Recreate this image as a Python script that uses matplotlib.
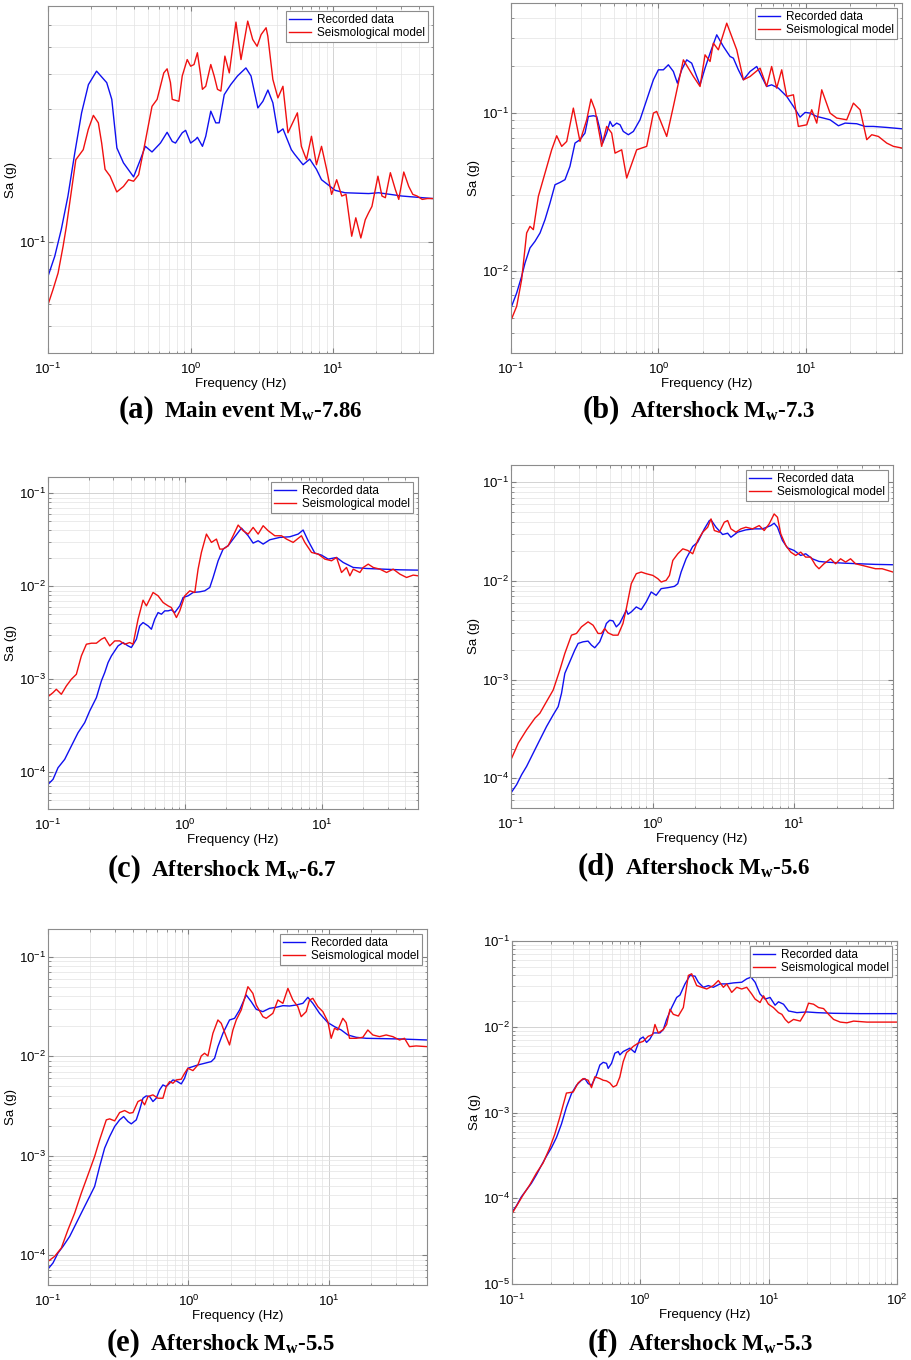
import matplotlib
matplotlib.use('Agg')
import matplotlib.pyplot as plt
from matplotlib.ticker import LogLocator, NullFormatter
from matplotlib.offsetbox import TextArea, HPacker, AnnotationBbox

plt.rcParams['font.family'] = ['Liberation Sans', 'DejaVu Sans']

# ---- (a) Main event Mw-7.86 ----
a_rec_f = [0.1, 0.1115, 0.124, 0.138, 0.154, 0.172, 0.192, 0.219, 0.258, 0.280,
           0.304, 0.338, 0.398, 0.444, 0.481, 0.536, 0.614, 0.684, 0.743, 0.783,
           0.873, 0.922, 1.0, 1.084, 1.115, 1.21, 1.276, 1.384, 1.5, 1.585,
           1.72, 1.91, 2.13, 2.44, 2.65, 2.96, 3.21, 3.48, 3.77, 4.09,
           4.44, 5.08, 5.36, 6.14, 6.84, 7.62, 8.27, 9.22, 10.3, 12.1,
           17.7, 20.8, 30.3, 50]
a_rec_sa = [0.0753, 0.0888, 0.111, 0.146, 0.208, 0.290, 0.366, 0.409, 0.372, 0.324,
            0.217, 0.192, 0.171, 0.197, 0.220, 0.210, 0.226, 0.247, 0.229, 0.226,
            0.246, 0.251, 0.226, 0.233, 0.237, 0.220, 0.239, 0.294, 0.267, 0.267,
            0.337, 0.366, 0.393, 0.420, 0.393, 0.302, 0.319, 0.350, 0.315, 0.246,
            0.254, 0.214, 0.206, 0.189, 0.198, 0.182, 0.167, 0.160, 0.153, 0.150,
            0.149, 0.150, 0.146, 0.143]
a_mod_f = [0.1, 0.1084, 0.1177, 0.1276, 0.1346, 0.1567, 0.1766, 0.1916, 0.208, 0.2254,
           0.2378, 0.2512, 0.2724, 0.3036, 0.338, 0.367, 0.398, 0.4318, 0.4688, 0.536,
           0.582, 0.648, 0.684, 0.722, 0.743, 0.827, 0.873, 0.946, 1.0, 1.056,
           1.115, 1.177, 1.209, 1.276, 1.384, 1.462, 1.542, 1.629, 1.738, 1.866,
           2.078, 2.254, 2.512, 2.723, 2.924, 3.119, 3.38, 3.475, 3.77, 4.09,
           4.436, 4.81, 5.6, 5.97, 6.485, 7.03, 7.62, 8.27, 8.98, 9.73,
           10.56, 11.46, 12.28, 13.46, 14.38, 15.6, 16.75, 17.66, 18.66, 20.56,
           21.94, 23.17, 25.12, 27.23, 28.77, 31.19, 33.81, 36.1, 38.7, 42.0,
           45.6, 50]
a_mod_sa = [0.0596, 0.0675, 0.0774, 0.0965, 0.1138, 0.197, 0.214, 0.253, 0.284, 0.267,
            0.226, 0.182, 0.172, 0.151, 0.158, 0.167, 0.165, 0.174, 0.214, 0.306,
            0.324, 0.403, 0.417, 0.372, 0.324, 0.319, 0.393, 0.450, 0.426, 0.432,
            0.476, 0.393, 0.352, 0.361, 0.432, 0.393, 0.352, 0.347, 0.463, 0.403,
            0.613, 0.450, 0.618, 0.531, 0.502, 0.553, 0.585, 0.546, 0.382, 0.328,
            0.361, 0.246, 0.290, 0.220, 0.197, 0.239, 0.189, 0.220, 0.182, 0.148,
            0.167, 0.146, 0.148, 0.1048, 0.122, 0.1033, 0.120, 0.127, 0.134, 0.172,
            0.146, 0.144, 0.177, 0.154, 0.142, 0.178, 0.158, 0.148, 0.146, 0.142,
            0.143, 0.143]

# ---- (b) Aftershock Mw-7.3 ----
b_rec_f = [0.1, 0.1093, 0.1181, 0.1245, 0.1345, 0.1455, 0.1574, 0.1701, 0.1839, 0.1989,
           0.215, 0.2325, 0.2512, 0.2718, 0.2938, 0.3177, 0.335, 0.3622, 0.3815, 0.4018,
           0.419, 0.4459, 0.4697, 0.4898, 0.5215, 0.5495, 0.578, 0.6255, 0.6767, 0.7507,
           0.8334, 0.925, 1.0, 1.081, 1.169, 1.264, 1.346, 1.44, 1.557, 1.683,
           1.82, 1.918, 2.073, 2.243, 2.489, 2.761, 3.065, 3.228, 3.49, 3.776,
           4.19, 4.65, 5.02, 5.43, 5.87, 6.52, 7.43, 8.25, 9.15, 9.9,
           10.7, 11.88, 13.18, 14.62, 16.67, 18.5, 22.18, 25.28, 28.78, 35.46,
           45]
b_rec_sa = [0.0058, 0.00722, 0.0092, 0.01118, 0.01393, 0.01535, 0.01734, 0.02106, 0.02685, 0.0351,
            0.0363, 0.0378, 0.0459, 0.0645, 0.0678, 0.0747, 0.0952, 0.0962, 0.0952, 0.0784,
            0.0645, 0.0747, 0.0885, 0.0823, 0.0864, 0.0843, 0.0765, 0.0729, 0.0765, 0.0907,
            0.1215, 0.1627, 0.1883, 0.1883, 0.2026, 0.1838, 0.155, 0.1883, 0.2178, 0.2075,
            0.1708, 0.1512, 0.1929, 0.2401, 0.314, 0.2648, 0.2288, 0.2233, 0.1883, 0.1627,
            0.1838, 0.1977, 0.1708, 0.1476, 0.1512, 0.1441, 0.1276, 0.1102, 0.0943, 0.101,
            0.1, 0.0952, 0.093, 0.0907, 0.0831, 0.0864, 0.0856, 0.0823, 0.0823, 0.0811,
            0.0795]
b_mod_f = [0.1, 0.1093, 0.1181, 0.1277, 0.1345, 0.1418, 0.1533, 0.1701, 0.1888, 0.2042,
           0.2208, 0.2388, 0.2649, 0.2938, 0.3264, 0.349, 0.3716, 0.4124, 0.4459, 0.482,
           0.508, 0.5638, 0.6096, 0.7127, 0.8334, 0.925, 0.974, 1.139, 1.264, 1.478,
           1.729, 1.918, 2.073, 2.243, 2.361, 2.553, 2.91, 3.402, 3.776, 4.19,
           4.9, 5.43, 5.87, 6.35, 6.87, 7.43, 8.25, 8.91, 10.16, 10.98,
           11.88, 12.84, 14.62, 16.24, 18.97, 21.06, 23.38, 25.94, 28.05, 31.12,
           35.46, 39.36, 45]
b_mod_sa = [0.00484, 0.00594, 0.00877, 0.01734, 0.0191, 0.0182, 0.0296, 0.0416, 0.0585, 0.0718,
            0.0615, 0.0661, 0.1076, 0.0661, 0.0907, 0.1227, 0.105, 0.0615, 0.0823, 0.0747,
            0.0557, 0.0585, 0.0387, 0.0585, 0.0615, 0.1, 0.1025, 0.0711, 0.1102, 0.2178,
            0.1708, 0.1476, 0.2344, 0.2127, 0.278, 0.2522, 0.3723, 0.2522, 0.1627, 0.1708,
            0.1929, 0.1476, 0.1977, 0.1441, 0.1883, 0.1276, 0.1307, 0.0823, 0.0843, 0.105,
            0.0864, 0.1406, 0.1, 0.093, 0.0907, 0.1157, 0.105, 0.0678, 0.0729, 0.0711,
            0.0645, 0.0615, 0.06]

# ---- (c) Aftershock Mw-6.7 ----
c_rec_f = [0.1, 0.1088, 0.1183, 0.1323, 0.148, 0.1656, 0.1852, 0.2014, 0.2254, 0.2451,
           0.2592, 0.2742, 0.29, 0.3067, 0.3243, 0.3527, 0.3837, 0.4056, 0.4414, 0.4667,
           0.4936, 0.537, 0.5679, 0.6005, 0.6353, 0.672, 0.7107, 0.7516, 0.7945, 0.8406,
           0.9144, 0.967, 1.052, 1.144, 1.279, 1.392, 1.514, 1.601, 1.742, 1.894,
           2.06, 2.24, 2.577, 2.884, 3.136, 3.411, 3.71, 4.15, 4.91, 5.81,
           6.68, 7.26, 7.9, 8.84, 9.89, 11.06, 12.73, 14.23, 16.84, 21.07,
           27.87, 36.9, 50]
c_rec_sa = [7.36e-5, 8.34e-5, 1.112e-4, 1.368e-4, 1.905e-4, 2.65e-4, 3.40e-4, 4.54e-4, 6.32e-4, 9.57e-4,
            1.175e-3, 1.507e-3, 1.778e-3, 2.014e-3, 2.28e-3, 2.477e-3, 2.28e-3, 2.19e-3, 2.69e-3, 3.745e-3,
            4.066e-3, 3.745e-3, 3.447e-3, 4.418e-3, 5.21e-3, 5.0e-3, 5.434e-3, 5.434e-3, 5.57e-3, 5.21e-3,
            6.15e-3, 7.57e-3, 7.89e-3, 8.57e-3, 8.71e-3, 8.93e-3, 9.70e-3, 0.01243, 0.0188, 0.02512,
            0.02729, 0.0322, 0.04228, 0.03496, 0.02914, 0.0309, 0.02844, 0.03166, 0.03357, 0.0341,
            0.03644, 0.0403, 0.0309, 0.02275, 0.02163, 0.0196, 0.0204, 0.01804, 0.01593, 0.01553,
            0.01528, 0.01503, 0.01491]
c_mod_f = [0.1, 0.1088, 0.115, 0.1251, 0.1361, 0.148, 0.161, 0.1751, 0.1905, 0.2072,
           0.2254, 0.2451, 0.2592, 0.2821, 0.3067, 0.3335, 0.3627, 0.3945, 0.4173, 0.4539,
           0.4936, 0.5222, 0.5522, 0.5839, 0.6353, 0.6911, 0.7516, 0.7945, 0.8645, 0.9144,
           0.9945, 1.082, 1.177, 1.244, 1.315, 1.431, 1.557, 1.693, 1.791, 1.894,
           2.06, 2.24, 2.438, 2.651, 2.884, 3.136, 3.411, 3.71, 4.036, 4.513,
           5.05, 5.49, 6.14, 7.06, 7.47, 8.36, 9.35, 10.46, 11.7, 12.73,
           13.84, 15.05, 15.92, 16.84, 18.84, 19.92, 21.67, 23.57, 26.36, 29.49,
           32.97, 36.9, 41.26, 46.1, 50]
c_mod_sa = [6.48e-4, 7.16e-4, 7.78e-4, 6.87e-4, 8.45e-4, 9.97e-4, 1.128e-3, 1.778e-3, 2.376e-3, 2.437e-3,
            2.437e-3, 2.69e-3, 2.805e-3, 2.28e-3, 2.58e-3, 2.58e-3, 2.376e-3, 2.477e-3, 2.376e-3, 4.418e-3,
            7.08e-3, 6.15e-3, 7.26e-3, 8.57e-3, 7.89e-3, 6.68e-3, 6.15e-3, 5.90e-3, 4.605e-3, 5.434e-3,
            7.89e-3, 8.93e-3, 8.57e-3, 0.01528, 0.02312, 0.03644, 0.02965, 0.0322, 0.02512, 0.02512,
            0.02729, 0.03496, 0.04556, 0.0396, 0.03644, 0.04299, 0.03644, 0.04482, 0.0396, 0.03496,
            0.03496, 0.0322, 0.02965, 0.03496, 0.02965, 0.02312, 0.02218, 0.0196, 0.0188, 0.0204,
            0.01407, 0.01593, 0.01296, 0.01528, 0.01407, 0.01593, 0.0173, 0.01593, 0.01528, 0.01407,
            0.01528, 0.0135, 0.01243, 0.01318, 0.01296]

# ---- (d) Aftershock Mw-5.6 ----
d_rec_f = [0.1, 0.1096, 0.1189, 0.1289, 0.1436, 0.16, 0.1783, 0.1987, 0.2154, 0.2275,
           0.2401, 0.2603, 0.2823, 0.2981, 0.3232, 0.3504, 0.37, 0.3905, 0.4235, 0.4469,
           0.4718, 0.4981, 0.5258, 0.5548, 0.5856, 0.6182, 0.6526, 0.6705, 0.7076, 0.7674,
           0.8322, 0.9025, 0.9786, 1.061, 1.151, 1.282, 1.429, 1.508, 1.592, 1.726,
           1.923, 2.085, 2.324, 2.52, 2.589, 2.809, 3.129, 3.393, 3.581, 3.99,
           4.566, 5.226, 5.98, 6.85, 7.233, 7.633, 8.278, 8.98, 10.0, 11.14,
           12.08, 13.46, 15.0, 16.71, 21.9, 28.69, 37.6, 50]
d_rec_sa = [7.11e-5, 8.63e-5, 1.089e-4, 1.321e-4, 1.803e-4, 2.46e-4, 3.35e-4, 4.40e-4, 5.33e-4, 7.28e-4,
            1.159e-3, 1.52e-3, 1.995e-3, 2.33e-3, 2.42e-3, 2.46e-3, 2.24e-3, 2.105e-3, 2.42e-3, 2.94e-3,
            3.71e-3, 4.0e-3, 3.945e-3, 3.43e-3, 3.71e-3, 4.33e-3, 5.06e-3, 4.605e-3, 4.86e-3, 5.46e-3,
            5.13e-3, 6.14e-3, 7.74e-3, 7.16e-3, 8.37e-3, 8.56e-3, 8.83e-3, 9.40e-3, 0.01233, 0.0168,
            0.0224, 0.02477, 0.03378, 0.04101, 0.04166, 0.0351, 0.02959, 0.03053, 0.0278, 0.03125,
            0.033, 0.03378, 0.03378, 0.03648, 0.03853, 0.0351, 0.02575, 0.0217, 0.0204, 0.01816,
            0.01888, 0.0168, 0.0158, 0.01556, 0.0152, 0.01496, 0.01474, 0.01462]
d_mod_f = [0.1, 0.1126, 0.1289, 0.1476, 0.16, 0.1783, 0.1987, 0.2213, 0.2401, 0.2674,
           0.2901, 0.3146, 0.3504, 0.3801, 0.4121, 0.435, 0.4592, 0.4847, 0.5258, 0.57,
           0.6182, 0.6526, 0.7076, 0.7674, 0.8322, 0.9025, 1.005, 1.09, 1.151, 1.248,
           1.317, 1.391, 1.508, 1.636, 1.774, 1.923, 2.085, 2.262, 2.453, 2.589,
           2.733, 2.963, 3.214, 3.393, 3.581, 3.883, 4.21, 4.566, 5.09, 5.67,
           6.15, 6.67, 7.233, 7.633, 8.054, 8.74, 9.47, 10.27, 11.14, 12.08,
           13.1, 14.2, 15.0, 16.27, 18.12, 19.65, 21.31, 23.11, 25.06, 27.19,
           30.28, 33.74, 37.6, 41.88, 50]
d_mod_sa = [1.545e-4, 2.275e-4, 3.10e-4, 4.07e-4, 4.57e-4, 6.0e-4, 7.86e-4, 1.253e-3, 1.845e-3, 2.825e-3,
            2.94e-3, 3.43e-3, 3.855e-3, 3.565e-3, 2.94e-3, 2.94e-3, 3.30e-3, 2.985e-3, 2.825e-3, 2.825e-3,
            3.71e-3, 5.25e-3, 9.40e-3, 0.01186, 0.01233, 0.01186, 0.0114, 0.01056, 9.77e-3, 0.01016,
            0.0114, 0.01617, 0.01888, 0.0212, 0.0204, 0.01888, 0.02575, 0.03125, 0.0351, 0.04262,
            0.0325, 0.03125, 0.03945, 0.04101, 0.03378, 0.03125, 0.03378, 0.0351, 0.03378, 0.03648,
            0.0325, 0.03793, 0.04787, 0.0443, 0.03006, 0.02292, 0.01963, 0.01816, 0.01963, 0.01747,
            0.01747, 0.0144, 0.01332, 0.01496, 0.0168, 0.01496, 0.0168, 0.01556, 0.0168, 0.01496,
            0.0144, 0.01385, 0.01332, 0.01332, 0.01233]

# ---- (e) Aftershock Mw-5.5 ----
e_rec_f = [0.1, 0.1085, 0.1178, 0.1279, 0.1427, 0.1591, 0.1774, 0.198, 0.2148, 0.2332,
           0.2531, 0.2748, 0.2983, 0.3237, 0.3456, 0.3711, 0.3919, 0.4253, 0.4492, 0.4746,
           0.5011, 0.5292, 0.5589, 0.5902, 0.6234, 0.6583, 0.6952, 0.7345, 0.7757, 0.8192,
           0.8892, 0.9391, 0.9918, 1.077, 1.168, 1.303, 1.454, 1.536, 1.622, 1.761,
           1.963, 2.131, 2.313, 2.58, 2.801, 3.04, 3.39, 3.782, 4.218, 4.706,
           5.248, 5.854, 6.53, 7.087, 7.692, 8.584, 9.84, 10.97, 12.24, 13.65,
           15.65, 18.44, 24.23, 31.84, 50]
e_rec_sa = [7.24e-5, 8.32e-5, 1.048e-4, 1.223e-4, 1.541e-4, 2.098e-4, 2.855e-4, 3.886e-4, 4.90e-4, 7.78e-4,
            1.189e-3, 1.557e-3, 1.962e-3, 2.288e-3, 2.472e-3, 2.202e-3, 2.086e-3, 2.288e-3, 2.884e-3, 3.777e-3,
            3.986e-3, 3.925e-3, 3.498e-3, 3.777e-3, 4.58e-3, 5.14e-3, 4.946e-3, 5.34e-3, 5.77e-3, 5.64e-3,
            5.26e-3, 6.0e-3, 7.56e-3, 7.86e-3, 8.16e-3, 8.48e-3, 8.82e-3, 9.53e-3, 0.01247, 0.01698,
            0.02312, 0.02402, 0.02912, 0.04121, 0.03532, 0.02958, 0.02803, 0.03027, 0.03098, 0.0322,
            0.03195, 0.0327, 0.03398, 0.03904, 0.03398, 0.02697, 0.02174, 0.01982, 0.01834, 0.01634,
            0.01548, 0.01512, 0.01501, 0.0149, 0.01455]
e_mod_f = [0.1, 0.1115, 0.1244, 0.1388, 0.1548, 0.1727, 0.1927, 0.2148, 0.2332, 0.2601,
           0.2748, 0.2983, 0.3237, 0.3514, 0.3814, 0.4027, 0.4372, 0.4617, 0.4876, 0.5149,
           0.5589, 0.6066, 0.6583, 0.6952, 0.7345, 0.7757, 0.8192, 0.8892, 0.9391, 0.9918,
           1.077, 1.168, 1.234, 1.303, 1.377, 1.494, 1.622, 1.713, 1.859, 1.963,
           2.074, 2.191, 2.377, 2.652, 2.877, 3.04, 3.39, 3.58, 3.994, 4.335,
           4.706, 5.108, 5.543, 6.016, 6.354, 6.897, 7.284, 7.692, 8.352, 9.065,
           9.84, 10.39, 10.97, 11.59, 12.58, 13.29, 14.03, 15.65, 17.46, 18.95,
           20.57, 22.94, 25.59, 28.55, 31.84, 34.57, 37.5, 41.84, 50]
e_mod_sa = [8.64e-5, 9.70e-5, 1.177e-4, 1.798e-4, 2.642e-4, 4.198e-4, 6.415e-4, 9.80e-4, 1.441e-3, 2.288e-3,
            2.342e-3, 2.236e-3, 2.711e-3, 2.84e-3, 2.67e-3, 2.711e-3, 3.498e-3, 3.634e-3, 3.237e-3, 3.925e-3,
            4.08e-3, 3.777e-3, 3.777e-3, 4.946e-3, 5.55e-3, 5.34e-3, 5.77e-3, 5.86e-3, 6.73e-3, 7.56e-3,
            7.16e-3, 8.16e-3, 0.01005, 0.0107, 0.01005, 0.01698, 0.02312, 0.0214, 0.01572, 0.01296,
            0.01834, 0.02312, 0.02912, 0.04995, 0.04282, 0.0327, 0.02496, 0.02402, 0.02697, 0.03671,
            0.03398, 0.04808, 0.03671, 0.03146, 0.02496, 0.02803, 0.03671, 0.03815, 0.03146, 0.02803,
            0.02225, 0.01512, 0.01906, 0.01834, 0.02402, 0.02174, 0.01512, 0.01512, 0.01548, 0.01834,
            0.01634, 0.01572, 0.01634, 0.01572, 0.01455, 0.01512, 0.01247, 0.01267, 0.01247]

# ---- (f) Aftershock Mw-5.3 ----
f_rec_f = [0.1, 0.1081, 0.1183, 0.1294, 0.1416, 0.1549, 0.1694, 0.1854, 0.2028, 0.2218,
           0.2427, 0.2655, 0.2905, 0.3179, 0.3477, 0.3693, 0.3921, 0.4163, 0.4554, 0.4836,
           0.5134, 0.5451, 0.5617, 0.5964, 0.6333, 0.6724, 0.6928, 0.7355, 0.7809, 0.829,
           0.9069, 0.9922, 1.053, 1.118, 1.188, 1.261, 1.422, 1.51, 1.603, 1.754,
           1.919, 2.037, 2.228, 2.438, 2.667, 2.831, 3.097, 3.388, 3.707, 4.178,
           4.712, 5.309, 6.166, 6.745, 7.29, 7.84, 8.57, 9.38, 10.26, 11.22,
           11.93, 13.05, 14.28, 16.6, 19.85, 23.76, 32.05, 51.7, 100]
f_rec_sa = [6.91e-5, 8.13e-5, 1.04e-4, 1.246e-4, 1.494e-4, 1.875e-4, 2.416e-4, 3.09e-4, 3.875e-4, 5.085e-4,
            7.31e-4, 1.151e-3, 1.655e-3, 2.076e-3, 2.379e-3, 2.49e-3, 2.173e-3, 2.076e-3, 2.726e-3, 3.578e-3,
            3.847e-3, 3.744e-3, 3.268e-3, 3.744e-3, 4.914e-3, 5.14e-3, 4.70e-3, 5.14e-3, 5.38e-3, 5.63e-3,
            5.004e-3, 7.194e-3, 7.598e-3, 6.57e-3, 7.194e-3, 8.473e-3, 8.473e-3, 9.28e-3, 0.01218, 0.01674,
            0.02197, 0.02342, 0.03159, 0.03963, 0.03891, 0.03304, 0.02885, 0.0302, 0.02885, 0.03159,
            0.03159, 0.03246, 0.03304, 0.0362, 0.0379, 0.03304, 0.02406, 0.021, 0.02197, 0.01783,
            0.01953, 0.01832, 0.01528, 0.01461, 0.01488, 0.01461, 0.01435, 0.01422, 0.01422]
f_mod_f = [0.1, 0.1114, 0.1219, 0.1374, 0.1549, 0.1746, 0.1968, 0.2153, 0.2356, 0.2655,
           0.2994, 0.3275, 0.3583, 0.3921, 0.4163, 0.4419, 0.4836, 0.5134, 0.5451, 0.5788,
           0.6145, 0.6525, 0.6928, 0.7355, 0.7809, 0.829, 0.8802, 0.9629, 1.053, 1.152,
           1.246, 1.3, 1.38, 1.51, 1.603, 1.702, 1.807, 1.977, 2.163, 2.366,
           2.512, 2.748, 3.006, 3.289, 3.707, 4.055, 4.437, 4.712, 5.153, 5.637,
           6.166, 6.745, 7.38, 7.84, 8.57, 9.11, 9.96, 10.89, 11.93, 12.67,
           13.45, 14.28, 15.63, 17.62, 19.27, 20.45, 22.37, 24.48, 26.78, 29.3,
           32.05, 36.12, 40.7, 45.9, 58.3, 100]
f_mod_sa = [6.61e-5, 8.67e-5, 1.088e-4, 1.428e-4, 1.962e-4, 2.576e-4, 3.875e-4, 5.57e-4, 8.77e-4, 1.685e-3,
            1.731e-3, 2.213e-3, 2.49e-3, 2.379e-3, 1.949e-3, 2.605e-3, 2.49e-3, 2.379e-3, 2.336e-3, 2.213e-3,
            1.984e-3, 2.076e-3, 2.605e-3, 3.918e-3, 5.004e-3, 5.38e-3, 5.895e-3, 6.45e-3, 6.755e-3, 7.738e-3,
            8.097e-3, 0.01063, 8.473e-3, 9.28e-3, 0.01063, 0.016, 0.01396, 0.01334, 0.01674, 0.03963,
            0.04148, 0.0302, 0.02885, 0.02757, 0.0302, 0.03458, 0.02885, 0.03159, 0.02518, 0.02885,
            0.02757, 0.02885, 0.02406, 0.021, 0.01918, 0.023, 0.01832, 0.01674, 0.01461, 0.01396,
            0.01218, 0.01112, 0.01218, 0.01164, 0.01461, 0.01883, 0.01832, 0.01674, 0.01629, 0.01396,
            0.01218, 0.01133, 0.01112, 0.01164, 0.01133, 0.01133]

letters = ['(a)', '(b)', '(c)', '(d)', '(e)', '(f)']
titles = [r'Main event M$_\mathregular{w}$-7.86', r'Aftershock M$_\mathregular{w}$-7.3',
          r'Aftershock M$_\mathregular{w}$-6.7', r'Aftershock M$_\mathregular{w}$-5.6',
          r'Aftershock M$_\mathregular{w}$-5.5', r'Aftershock M$_\mathregular{w}$-5.3']
xlims = [(0.1, 50), (0.1, 45), (0.1, 50), (0.1, 50), (0.1, 50), (0.1, 100)]
ylims = [(0.04, 0.7), (0.003, 0.5), (4e-5, 0.15), (5e-5, 0.15), (5e-5, 0.19), (1e-5, 0.1)]

series = [(a_rec_f, a_rec_sa, a_mod_f, a_mod_sa), (b_rec_f, b_rec_sa, b_mod_f, b_mod_sa),
          (c_rec_f, c_rec_sa, c_mod_f, c_mod_sa), (d_rec_f, d_rec_sa, d_mod_f, d_mod_sa),
          (e_rec_f, e_rec_sa, e_mod_f, e_mod_sa), (f_rec_f, f_rec_sa, f_mod_f, f_mod_sa)]

W, H = 912, 1360
# axes boxes in pixels: left, top, right, bottom
boxes = [(48, 6, 433, 353), (511, 3, 902, 353),
         (48, 477, 418, 809), (511, 465, 893, 808),
         (48, 929, 427, 1285), (512, 941, 897, 1284)]
# caption centres in pixels
caps = [(241, 410), (699, 410), (222, 869), (694, 867), (221, 1343), (700, 1343)]

fig = plt.figure(figsize=(W / 100, H / 100), dpi=100)

for i in range(6):
    l, t, r, b = boxes[i]
    ax = fig.add_axes([l / W, 1 - b / H, (r - l) / W, (b - t) / H])
    rf, rs, mf, ms = series[i]
    ax.plot(rf, rs, color='#1010f0', lw=1.0, label='Recorded data')
    ax.plot(mf, ms, color='#f01010', lw=1.0, label='Seismological model')
    ax.set_xscale('log')
    ax.set_yscale('log')
    ax.set_xlim(xlims[i])
    ax.set_ylim(ylims[i])
    for axis in (ax.xaxis, ax.yaxis):
        axis.set_major_locator(LogLocator(base=10, numticks=20))
        axis.set_minor_locator(LogLocator(base=10, subs=range(2, 10), numticks=100))
        axis.set_minor_formatter(NullFormatter())
    ax.grid(which='major', color='0.8', lw=0.6)
    ax.grid(which='minor', color='0.89', lw=0.5)
    ax.set_axisbelow(True)
    ax.tick_params(which='both', direction='in', top=True, right=True, color='0.5', labelsize=9.5)
    ax.tick_params(which='major', length=3.5)
    ax.tick_params(which='minor', length=1.8)
    ax.tick_params(axis='y', pad=1.5)
    ax.tick_params(axis='x', pad=6)
    for s in ax.spines.values():
        s.set_color('0.55')
        s.set_linewidth(0.8)
    ax.set_xlabel('Frequency (Hz)', fontsize=9.5, labelpad=1)
    ax.set_ylabel('Sa (g)', fontsize=9.5, labelpad=1)
    leg = ax.legend(loc='upper right', fontsize=8.5, fancybox=False, framealpha=1,
                    edgecolor='0.55', borderpad=0.25, labelspacing=0.1,
                    handlelength=1.9, handletextpad=0.5, borderaxespad=0.4)
    leg.get_frame().set_linewidth(0.8)

    serif = dict(fontfamily='Liberation Serif', fontweight='bold')
    t1 = TextArea(letters[i], textprops=dict(fontsize=22, **serif))
    t2 = TextArea(titles[i], textprops=dict(fontsize=16.5, **serif))
    pack = HPacker(children=[t1, t2], align='baseline', pad=0, sep=7)
    cx, cy = caps[i]
    fig.add_artist(AnnotationBbox(pack, (cx / W, 1 - cy / H), xycoords='figure fraction',
                                  frameon=False, box_alignment=(0.5, 0.5)))

fig.savefig('out.png', dpi=100)
